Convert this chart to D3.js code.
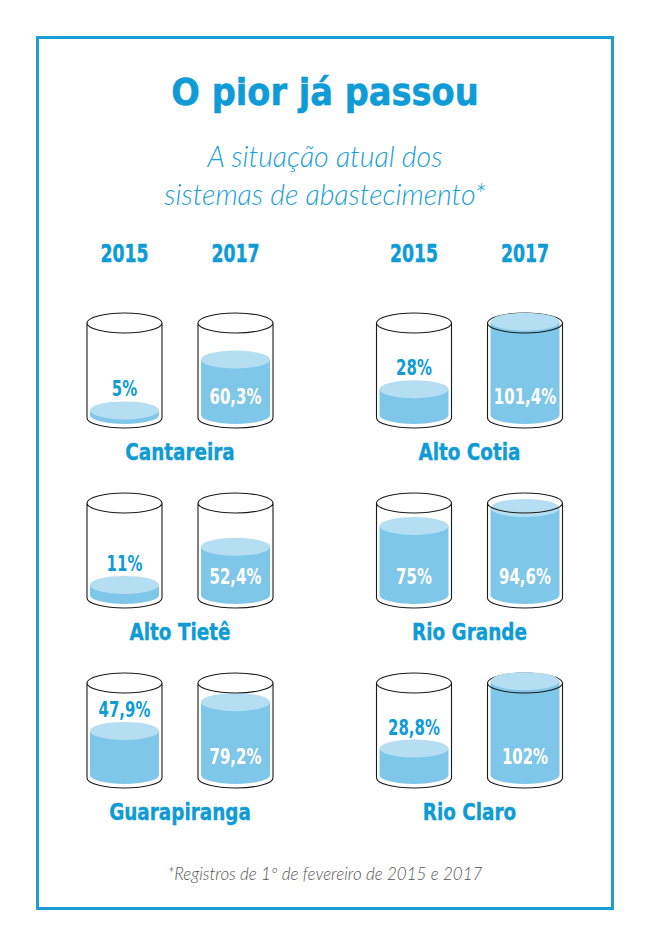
<!DOCTYPE html>
<html>
<head>
<meta charset="utf-8">
<script src="https://cdn.jsdelivr.net/npm/d3@7"></script>
<style>
  html, body { margin: 0; padding: 0; background: #fff; }
  .bold { font-family: "DejaVu Sans", sans-serif; font-weight: 700; }
  .light { font-family: Lato, "Open Sans", sans-serif; font-style: italic; font-weight: 300; }
</style>
</head>
<body>
<div id="chart"></div>
<script>
// dados
const systems = ['Cantareira', 'Alto Tietê', 'Guarapiranga', 'Alto Cotia', 'Rio Grande', 'Rio Claro'];
const years = ['2015', '2017'];
const values2015 = [5, 11, 47.9, 28, 75, 28.8];
const values2017 = [60.3, 52.4, 79.2, 101.4, 94.6, 102];
const title = 'O pior já passou';
const subtitle = ['A situação atual dos', 'sistemas de abastecimento*'];
const footnote = '*Registros de 1º de fevereiro de 2015 e 2017';

const width = 650;
const height = 946;
const blue = '#0e9bd6';
const waterBody = '#7fc7e8';
const waterTop = '#b6def3';

const svg = d3.select('#chart').append('svg')
	.attr('width', width)
	.attr('height', height);

// texto "condensado": DejaVu comprimido na horizontal
const place = (x, y, sx) => `translate(${x},${y}) scale(${sx},1)`;

svg.append('rect')
	.attr('x', 37.5).attr('y', 37.5)
	.attr('width', 575).attr('height', 871)
	.attr('fill', 'none')
	.attr('stroke', '#1a9fd5')
	.attr('stroke-width', 3);

svg.append('text')
	.attr('class', 'bold')
	.attr('transform', place(325, 105, 0.91))
	.attr('text-anchor', 'middle')
	.attr('font-size', 37)
	.attr('fill', blue)
	.attr('stroke', blue)
	.attr('stroke-width', 0.6)
	.text(title);

svg.selectAll('.sub')
	.data(subtitle)
	.join('text')
	.attr('class', 'light sub')
	.attr('x', 325)
	.attr('y', (d, i) => 167 + i * 38)
	.attr('text-anchor', 'middle')
	.attr('font-size', 28.5)
	.attr('fill', '#1aa0d6')
	.text((d) => d);

// escalas
const groupX = d3.scalePoint().domain([0, 1]).range([180, 469.5]);
const yearX = d3.scalePoint().domain(years).range([-55.5, 55.5]);
const rowY = d3.scalePoint().domain([0, 1, 2]).range([323, 683]);

const rx = 37.5, ry = 10, H = 95, inset = 3;
const level = d3.scaleLinear().domain([0, 100]).range([0, H - inset]);

const fmt = (v) => String(v).replace('.', ',') + '%';

// anos
groupX.domain().forEach((g) => {
	svg.selectAll(null)
		.data(years)
		.join('text')
		.attr('class', 'bold')
		.attr('transform', (d) => place(groupX(g) + yearX(d), 262, 0.72))
		.attr('text-anchor', 'middle')
		.attr('font-size', 24)
		.attr('fill', blue)
		.attr('stroke', blue)
		.attr('stroke-width', 0.5)
		.text((d) => d);
});

const items = systems.map((name, i) => ({
	name,
	group: Math.floor(i / 3),
	row: i % 3,
	values: [values2015[i], values2017[i]],
}));

const cells = svg.selectAll('.cell')
	.data(items)
	.join('g')
	.attr('class', 'cell')
	.attr('transform', (d) => `translate(${groupX(d.group)},${rowY(d.row)})`);

cells.append('text')
	.attr('class', 'bold')
	.attr('transform', place(0, H + 42, 0.8))
	.attr('text-anchor', 'middle')
	.attr('font-size', 23)
	.attr('fill', blue)
	.attr('stroke', blue)
	.attr('stroke-width', 0.4)
	.text((d) => d.name);

const glass = cells.selectAll('.glass')
	.data((d) => d.values.map((v, j) => ({ v, year: years[j] })))
	.join('g')
	.attr('class', 'glass')
	.attr('transform', (d) => `translate(${yearX(d.year)},0)`);

// aro traseiro
glass.append('path')
	.attr('d', `M${-rx},0 A${rx},${ry} 0 0 1 ${rx},0`)
	.attr('fill', 'none')
	.attr('stroke', '#1a1a1a')
	.attr('stroke-width', 1.1);

// água
const wrx = rx - inset;
const base = H - inset;
glass.append('path')
	.attr('d', (d) => {
		const top = base - level(d.v);
		return `M${-wrx},${top} L${-wrx},${base} A${wrx},${ry - 1} 0 0 0 ${wrx},${base} L${wrx},${top} Z`;
	})
	.attr('fill', waterBody);

glass.append('ellipse')
	.attr('cx', 0)
	.attr('cy', (d) => base - level(d.v))
	.attr('rx', wrx)
	.attr('ry', ry - 1)
	.attr('fill', waterTop);

// contorno frontal
glass.append('path')
	.attr('d', `M${-rx},0 A${rx},${ry} 0 0 0 ${rx},0 M${-rx},0 L${-rx},${H} A${rx},${ry} 0 0 0 ${rx},${H} L${rx},0`)
	.attr('fill', 'none')
	.attr('stroke', '#1a1a1a')
	.attr('stroke-width', 1.1);

glass.append('text')
	.attr('class', 'bold')
	.attr('transform', (d) => place(0, d.v < 50 ? base - level(d.v) - 14 : H - 14, 0.68))
	.attr('text-anchor', 'middle')
	.attr('font-size', 22)
	.attr('fill', (d) => (d.v < 50 ? blue : '#fff'))
	.text((d) => fmt(d.v));

svg.append('text')
	.attr('class', 'light')
	.attr('x', 325).attr('y', 880)
	.attr('text-anchor', 'middle')
	.attr('font-size', 17)
	.attr('fill', '#555')
	.text(footnote);
</script>
</body>
</html>
